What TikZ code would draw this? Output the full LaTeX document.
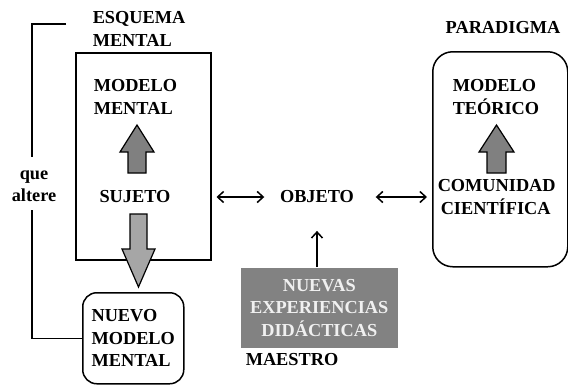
\documentclass[tikz,border=0pt]{standalone}
\usepackage{fontspec}
\setmainfont{Liberation Serif}
\usetikzlibrary{arrows.meta}
\definecolor{darkarr}{HTML}{808080}
\definecolor{lightarr}{HTML}{A6A6A6}
\definecolor{boxgray}{HTML}{828282}
\definecolor{boxtext}{HTML}{F0F0F0}
\begin{document}
\begin{tikzpicture}[x=1pt,y=-1pt, line width=1.5pt,
  lbl/.style={font=\bfseries\fontsize{18.3}{22.5}\selectfont, inner sep=0pt, align=left},
  dbl/.style={{Straight Barb[length=6pt,width=11pt]}-{Straight Barb[length=6pt,width=11pt]}},
  uparr/.style={-{Straight Barb[length=6pt,width=11pt]}},
  blockdark/.style={draw=black, line width=1.2pt, fill=darkarr},
  blocklight/.style={draw=black, line width=1.2pt, fill=lightarr}
]
\useasboundingbox (0,0) rectangle (568,384);

% boxes
\node[draw, minimum width=135pt, minimum height=207pt, anchor=north west, inner sep=0pt] (esq) at (75,52) {};
\node[draw, rounded corners=20pt, minimum width=135pt, minimum height=215pt, anchor=north west, inner sep=0pt] (parbox) at (432,51) {};
\node[draw, lbl, rounded corners=14pt, minimum width=101pt, minimum height=91pt, anchor=north west] (nuevo) at (82,292) {NUEVO\\MODELO\\MENTAL};
\node[lbl, fill=boxgray, text=boxtext, align=center, minimum width=157pt, minimum height=80pt, anchor=north west] (exp) at (240,267) {NUEVAS\\EXPERIENCIAS\\DIDÁCTICAS};

% labels
\node[lbl, anchor=north west] (esqlbl) at (92,11) {ESQUEMA\\MENTAL};
\node[lbl, anchor=north west] (mm) at (93,79) {MODELO\\MENTAL};
\node[lbl] (suj) at (135,197) {SUJETO};
\node[lbl] (obj) at (317,197) {OBJETO};
\node[lbl, align=center] (que) at (34,186) {que\\altere};
\node[lbl] (par) at (503,28) {PARADIGMA};
\node[lbl, anchor=north west] (mt) at (452,79) {MODELO\\TEÓRICO};
\node[lbl, anchor=north west] (com) at (437,179) {COMUNIDAD\\\hspace*{3pt}CIENTÍFICA};
\node[lbl, anchor=west] (mae) at (245,360) {MAESTRO};

% bracket
\coordinate (b1) at (66,24);
\coordinate (b2) at (32,157);
\coordinate (b3) at (32,210);
\draw (b1) -| (b2);
\draw (b3) |- (nuevo.west);

% connectors
\draw[dbl, shorten <=5pt, shorten >=15pt] (esq.east |- obj.center) -- (obj.west);
\draw[dbl, shorten <=21pt, shorten >=5pt] (obj.east) -- (parbox.west |- obj.center);
\draw[uparr, shorten >=27pt] (exp.north -| obj.south) -- (obj.south);

% block arrows
\draw[blockdark] (128,173) -- (128,152) -- (120,152) -- (137,125) -- (154,152) -- (146,152) -- (146,173) -- cycle;
\draw[blockdark] (487,173) -- (487,152) -- (479,152) -- (496.5,125) -- (514,152) -- (506,152) -- (506,173) -- cycle;
\draw[blocklight] (130,214) -- (147,214) -- (147,249) -- (155,249) -- (138.5,287) -- (122,249) -- (130,249) -- cycle;
\end{tikzpicture}
\end{document}
